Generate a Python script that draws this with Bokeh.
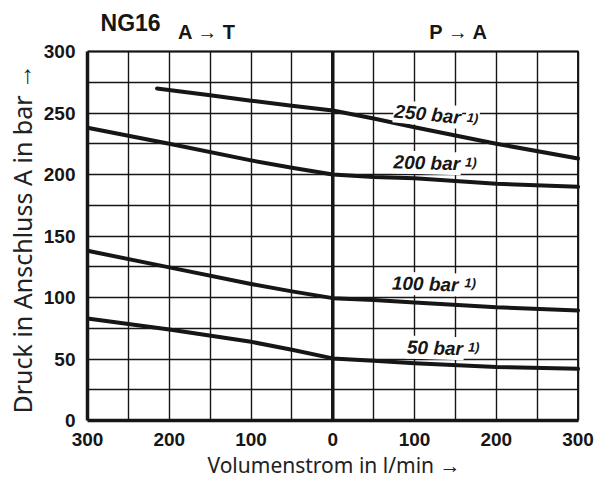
from bokeh.plotting import figure
from bokeh.models import ColumnDataSource, FixedTicker, Label, Title
from bokeh.core.properties import value
from bokeh.embed import file_html
from bokeh.resources import INLINE

# ---- data (flow: negative = A->T side, positive = P->A side) ----
x_250 = [-215, -150, -100, -50, 0, 50, 100, 200, 300]
y_250 = [270, 264.5, 260, 256, 252, 245.5, 238.5, 225, 213]

x_200 = [-300, -200, -100, -50, 0, 50, 100, 200, 300]
y_200 = [238, 225, 211.5, 205.5, 200, 198, 197, 192.5, 190]

x_100 = [-300, -200, -100, -50, 0, 50, 100, 200, 300]
y_100 = [138, 124.5, 111, 105, 99.5, 98, 96, 92, 89.5]

x_50 = [-300, -200, -100, -50, 0, 50, 100, 200, 300]
y_50 = [83, 74, 64, 57.5, 50.5, 48.5, 46.5, 43.5, 42]

label_text = ["250 bar", "200 bar", "100 bar", "50 bar"]
label_x = [116, 115, 113, 125]
label_y = [249, 209.5, 111, 59]
label_angle = [-0.098, -0.03, -0.03, -0.03]
note_x = [171, 169, 168, 172.5]
note_y = [246, 210, 111.8, 59.7]

x_ticks = [-300, -200, -100, 0, 100, 200, 300]
x_tick_labels = ["300", "200", "100", "0", "100", "200", "300"]
y_ticks = [0, 50, 100, 150, 200, 250, 300]

BOLD_FONT = "Liberation Sans"
INK = "#161616"

p = figure(width=605, height=494, x_range=(-300, 303), y_range=(0, 335),
           output_backend="svg", toolbar_location=None,
           min_border_left=87, min_border_right=25,
           min_border_top=8, min_border_bottom=74)
p.background_fill_color = "white"
p.border_fill_color = "white"
p.outline_line_color = None

# grid (limited to the chart area 0..300 / -300..300)
p.xgrid.ticker = FixedTicker(ticks=list(range(-300, 301, 50)))
p.ygrid.ticker = FixedTicker(ticks=list(range(0, 301, 25)))
p.xgrid.bounds = (-300, 300)
p.xgrid.cross_bounds = (0, 300)
p.ygrid.bounds = (0, 300)
p.ygrid.cross_bounds = (-300, 300)
for g in (p.xgrid, p.ygrid):
    g.grid_line_color = INK
    g.grid_line_width = 1.4
    g.grid_line_alpha = 1.0

# axes
p.xaxis.ticker = FixedTicker(ticks=x_ticks)
p.xaxis.major_label_overrides = {t: l for t, l in zip(x_ticks, x_tick_labels)}
p.xaxis.bounds = (-300, 300)
p.yaxis.ticker = FixedTicker(ticks=y_ticks)
p.yaxis.bounds = (0, 300)
for ax in (p.xaxis, p.yaxis):
    ax.axis_line_width = 3.5
    ax.axis_line_color = INK
    ax.major_tick_line_color = None
    ax.minor_tick_line_color = None
    ax.major_tick_out = 0
    ax.major_tick_in = 0
    ax.minor_tick_out = 0
    ax.minor_tick_in = 0
    ax.major_label_text_font = BOLD_FONT
    ax.major_label_text_font_style = "bold"
    ax.major_label_text_font_size = "19px"
    ax.major_label_text_color = INK
p.xaxis.major_label_standoff = 12
p.yaxis.major_label_standoff = 12
p.xaxis.axis_label = "Volumenstrom in l/min \u2192"
p.xaxis.axis_label_text_font = "Noto Sans"
p.xaxis.axis_label_text_font_style = "normal"
p.xaxis.axis_label_text_color = "#222222"
p.xaxis.axis_label_text_font_size = "21px"
p.xaxis.axis_label_standoff = 2

# y-axis title, starting near the bottom of the chart area
p.add_layout(Title(text="Druck in Anschluss A in bar \u2192", align="left", offset=7,
                   text_font="Noto Sans", text_font_style="normal",
                   text_font_size="25px", text_color="#222222", standoff=3), "left")

# frame of the chart area and the zero line
p.quad(left=[-300], right=[300], bottom=[0], top=[300], fill_color=None,
       line_color=INK, line_width=2)
p.segment(x0=[0], y0=[0], x1=[0], y1=[300], line_color=INK, line_width=3.5)

# curves
for xs, ys in ((x_250, y_250), (x_200, y_200), (x_100, y_100), (x_50, y_50)):
    p.line(xs, ys, line_color=INK, line_width=4, line_join="round", line_cap="round")

# curve labels
lsrc = ColumnDataSource(dict(x=label_x, y=label_y, text=label_text, angle=label_angle))
p.text(x="x", y="y", text="text", angle="angle", source=lsrc,
       text_font=value(BOLD_FONT), text_font_style="bold italic",
       text_font_size="19px", text_color=INK,
       text_align="center", text_baseline="middle",
       background_fill_color="white", padding=1)
nsrc = ColumnDataSource(dict(x=note_x, y=note_y, text=["1)"] * 4, angle=label_angle))
p.text(x="x", y="y", text="text", angle="angle", source=nsrc,
       text_font=value(BOLD_FONT), text_font_style="bold italic",
       text_font_size="13px", text_color=INK,
       text_align="center", text_baseline="middle",
       background_fill_color="white", padding=1)

# headings above the chart
p.add_layout(Label(x=-284, y=323.6, text="NG16", text_font=BOLD_FONT,
                   text_font_style="bold", text_font_size="23px", text_color=INK,
                   text_align="left", text_baseline="middle"))
p.add_layout(Label(x=-154, y=316, text="A \u2192 T", text_font=BOLD_FONT,
                   text_font_style="bold", text_font_size="20px", text_color=INK,
                   text_align="center", text_baseline="middle"))
p.add_layout(Label(x=154, y=316, text="P \u2192 A", text_font=BOLD_FONT,
                   text_font_style="bold", text_font_size="20px", text_color=INK,
                   text_align="center", text_baseline="middle"))

open("out.html", "w").write(file_html(p, INLINE))
